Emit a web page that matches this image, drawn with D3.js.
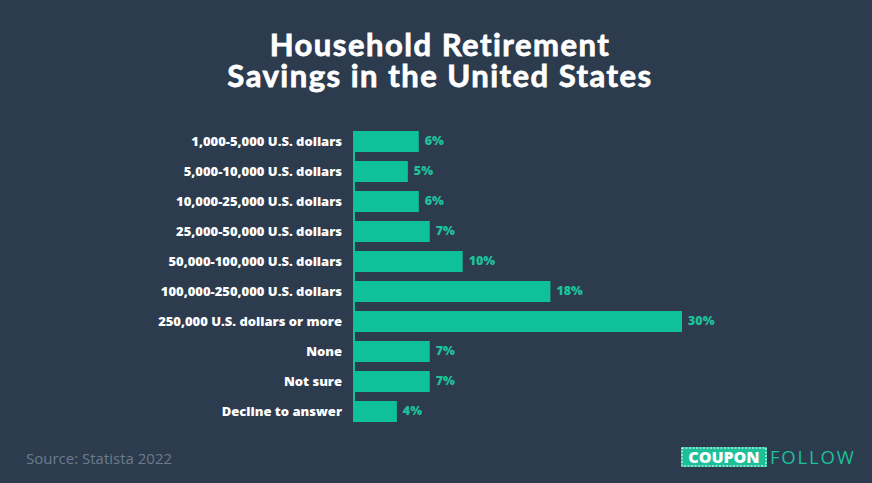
<!DOCTYPE html>
<html>
<head>
<meta charset="utf-8">
<script src="https://cdn.jsdelivr.net/npm/d3@7"></script>
<style>
  html, body { margin: 0; padding: 0; background: #2c3b4e; }
  svg { display: block; }
</style>
</head>
<body>
<div id="chart"></div>
<script>
const WIDTH = 872;
const HEIGHT = 483;

// data
const categories = [
  "1,000-5,000 U.S. dollars",
  "5,000-10,000 U.S. dollars",
  "10,000-25,000 U.S. dollars",
  "25,000-50,000 U.S. dollars",
  "50,000-100,000 U.S. dollars",
  "100,000-250,000 U.S. dollars",
  "250,000 U.S. dollars or more",
  "None",
  "Not sure",
  "Decline to answer"
];
const shares = [6, 5, 6, 7, 10, 18, 30, 7, 7, 4];
const titleLines = ["Household Retirement", "Savings in the United States"];
const sourceText = "Source: Statista 2022";

const BG = "#2c3b4e";
const TEAL = "#0fc19b";

const svg = d3.select("#chart")
  .append("svg")
  .attr("width", WIDTH)
  .attr("height", HEIGHT);

svg.append("rect")
  .attr("width", WIDTH)
  .attr("height", HEIGHT)
  .attr("fill", BG);

// title, one text element with a tspan per line
const title = svg.append("text")
  .attr("text-anchor", "middle")
  .style("font-family", "Lato, 'Open Sans', sans-serif")
  .style("font-weight", "700")
  .style("font-size", "31px")
  .style("letter-spacing", "1.5px")
  .style("fill", "#ffffff")
  .style("stroke", "#ffffff")
  .style("stroke-width", "0.8px");

title.selectAll("tspan")
  .data(titleLines)
  .enter()
  .append("tspan")
  .attr("x", WIDTH / 2 + 4)
  .attr("y", (d, i) => 56 + i * 31)
  .text(d => d);

// scales
const x = d3.scaleLinear()
  .domain([0, 30])
  .range([353, 682]);

const y = d3.scaleBand()
  .domain(categories)
  .range([126.5, 426.5])
  .paddingInner(0.3)
  .paddingOuter(0.15);

const chart = svg.append("g");

// thin baseline behind bars
chart.append("line")
  .attr("x1", x(0) + 1)
  .attr("x2", x(0) + 1)
  .attr("y1", y(categories[0]))
  .attr("y2", y(categories[categories.length - 1]) + y.bandwidth())
  .attr("stroke", TEAL)
  .attr("stroke-width", 2);

chart.selectAll(".bar")
  .data(categories)
  .enter()
  .append("rect")
  .attr("class", "bar")
  .attr("x", x(0))
  .attr("y", d => y(d))
  .attr("width", (d, i) => x(shares[i]) - x(0))
  .attr("height", y.bandwidth())
  .attr("fill", TEAL);

// category labels
chart.selectAll(".cat-label")
  .data(categories)
  .enter()
  .append("text")
  .attr("class", "cat-label")
  .attr("x", 342)
  .attr("y", d => y(d) + y.bandwidth() / 2)
  .attr("dy", "0.36em")
  .attr("text-anchor", "end")
  .style("font-family", "'Open Sans', sans-serif")
  .style("font-weight", "800")
  .style("font-size", "13px")
  .style("fill", "#ffffff")
  .text(d => d);

// value labels
chart.selectAll(".val-label")
  .data(categories)
  .enter()
  .append("text")
  .attr("class", "val-label")
  .attr("x", (d, i) => x(shares[i]) + 6)
  .attr("y", d => y(d) + y.bandwidth() / 2 - 1)
  .attr("dy", "0.36em")
  .style("font-family", "'Open Sans', sans-serif")
  .style("font-weight", "800")
  .style("font-size", "12.5px")
  .style("fill", "#1cc29c")
  .text((d, i) => shares[i] + "%");

// source
svg.append("text")
  .attr("x", 26)
  .attr("y", 464)
  .style("font-family", "'Open Sans', sans-serif")
  .style("font-size", "15px")
  .style("fill", "#6c7b8d")
  .text(sourceText);

// logo
const logo = svg.append("g");
logo.append("rect")
  .attr("x", 681)
  .attr("y", 447)
  .attr("width", 86)
  .attr("height", 20)
  .attr("fill", "#1cbf98");
logo.append("rect")
  .attr("x", 682)
  .attr("y", 448)
  .attr("width", 84)
  .attr("height", 18)
  .attr("fill", "none")
  .attr("stroke", "#ffffff")
  .attr("stroke-width", 1)
  .attr("stroke-dasharray", "2,1.5");
logo.append("text")
  .attr("x", 724)
  .attr("y", 463)
  .attr("text-anchor", "middle")
  .style("font-family", "'Open Sans', sans-serif")
  .style("font-weight", "800")
  .style("font-size", "16px")
  .style("fill", "#ffffff")
  .text("COUPON");
logo.append("text")
  .attr("x", 770)
  .attr("y", 464)
  .style("font-family", "'Open Sans', sans-serif")
  .style("font-weight", "400")
  .style("font-size", "18.5px")
  .style("letter-spacing", "1.8px")
  .style("fill", "#1cbf98")
  .text("FOLLOW");
</script>
</body>
</html>
